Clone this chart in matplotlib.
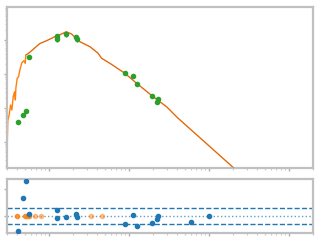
import numpy as np
import matplotlib
matplotlib.use("Agg")
import matplotlib.pyplot as plt

# model SED
model_wave = [0.0301, 0.0307, 0.0319, 0.0332, 0.0345, 0.0358, 0.0373, 0.0381, 0.0387,
              0.0402, 0.0418, 0.0434, 0.046, 0.0487, 0.0506, 0.0516, 0.0557, 0.0637,
              0.0772, 0.0936, 0.119, 0.144, 0.165, 0.192, 0.219, 0.244, 0.326, 0.413,
              0.456, 0.579, 0.891, 1.25, 2.01, 2.96, 4.13, 20.5, 28.2]
model_flux = [0.00728, 0.0444, 0.0622, 0.1225, 0.0873, 0.215, 0.302, 0.172, 0.388,
              0.748, 0.833, 1.31, 2.15, 2.46, 2.06, 3.62, 4.06, 5.33,
              7.89, 9.53, 12.5, 15.0, 17.5, 15.0, 11.2, 8.91, 6.35, 4.06,
              2.90, 2.06, 1.05, 0.533, 0.215, 0.109, 0.0498, 0.00172, 0.000885]

# photometry
phot_wave = [0.0413, 0.0473, 0.052, 0.0557, 0.125, 0.128, 0.165, 0.219, 0.223,
             0.891, 1.13, 1.25, 1.96, 2.32, 2.26]
phot_flux = [0.038, 0.0635, 0.080, 3.10, 13.1, 10.5, 15.0, 12.0, 10.5,
             1.05, 0.873, 0.498, 0.225, 0.184, 0.150]
phot_err = [0.002, 0.003, 0.004, 0.2, 2.0, 1.8, 2.5, 2.0, 1.8,
            0.05, 0.04, 0.03, 0.01, 0.01, 0.01]

# residuals
res_wave = [0.0413, 0.0473, 0.052, 0.0557, 0.125, 0.128, 0.165, 0.219, 0.223,
            0.891, 1.13, 1.25, 1.96, 2.26, 2.32, 5.96, 10.0]
res_val = [-0.577, 0.654, 1.319, 0.062, 0.231, -0.077, -0.065, 0.077, -0.038,
           -0.335, 0.038, -0.385, -0.269, -0.115, 0.0, -0.231, 0.0]
lim_wave = [0.0402, 0.0506, 0.0526, 0.0557]
lim_wave_faint = [0.0663, 0.0801, 0.335, 0.464]
sig_hi, sig_lo = 0.27, -0.31

spine_c = '#c0c0c0'

fig = plt.figure(figsize=(3.2, 2.4), dpi=100)
ax1 = fig.add_axes([0.022, 0.30, 0.956, 0.671])
ax2 = fig.add_axes([0.022, 0.029, 0.956, 0.225], sharex=ax1)

ax1.plot(model_wave, model_flux, color='#ff7f0e', lw=1.0, zorder=2)
ax1.plot(model_wave[15:], model_flux[15:], color='#a0522d', lw=0.5, alpha=0.6, zorder=3)
ax1.errorbar(phot_wave, phot_flux, yerr=phot_err, fmt='o', color='#2ca02c',
             ms=3, elinewidth=1, capsize=0, zorder=4)
ax1.set_xscale('log')
ax1.set_yscale('log')
ax1.set_xlim(0.03, 200)
ax1.set_ylim(0.00172, 93.6)

ax2.axhline(0, color='#1f77b4', ls=':', lw=1, alpha=0.7)
ax2.axhline(sig_hi, color='#1f77b4', ls='--', lw=1)
ax2.axhline(sig_lo, color='#1f77b4', ls='--', lw=1)
ax2.plot(res_wave, res_val, 'o', color='#1f77b4', ms=3, zorder=4)
ax2.plot(lim_wave, np.zeros(len(lim_wave)), 'o', color='#ff7f0e', ms=3, alpha=0.8, zorder=3)
ax2.plot(lim_wave_faint, np.zeros(len(lim_wave_faint)), 'o', color='#ff7f0e', ms=3, alpha=0.45, zorder=3)
ax2.set_ylim(-0.669, 1.396)
ax2.set_yticks([0, 1])

for ax in (ax1, ax2):
    for s in ax.spines.values():
        s.set_color(spine_c)
        s.set_linewidth(1.6)
    ax.tick_params(which='major', length=2.5, width=1, color='#b0b0b0',
                   labelbottom=False, labelleft=False)
    ax.tick_params(which='minor', length=1.5, width=0.8, color='#c8c8c8')

plt.savefig('out.png', dpi=100)
